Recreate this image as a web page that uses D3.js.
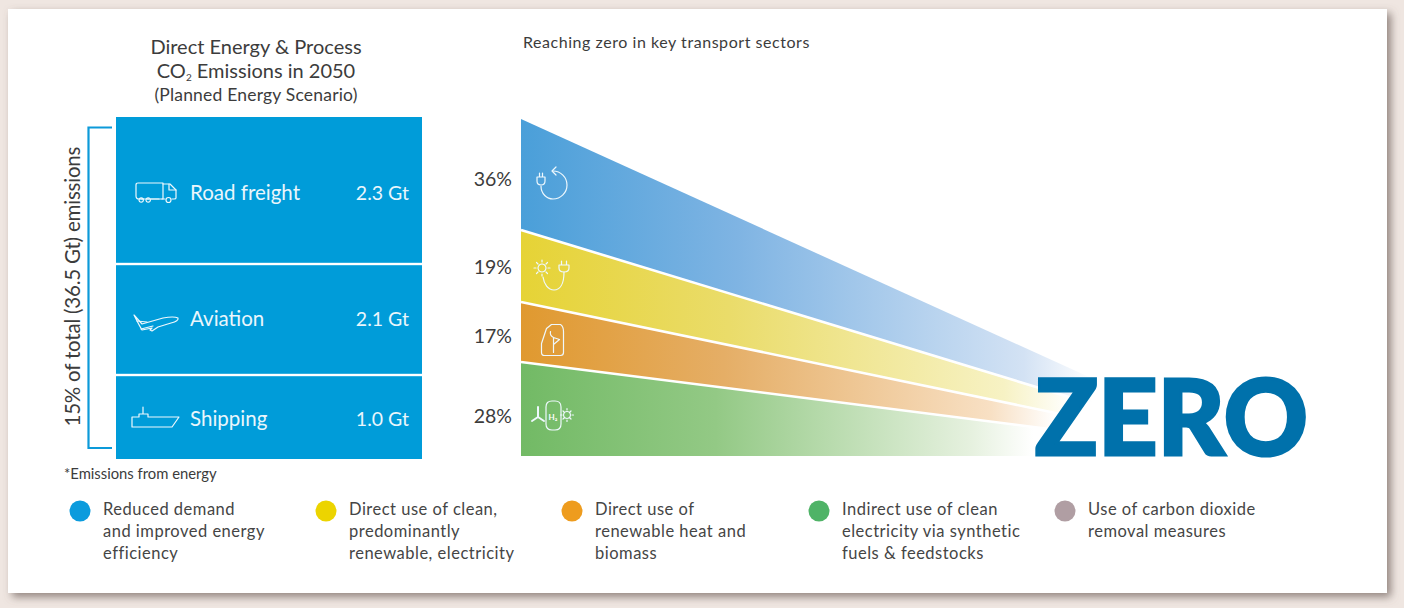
<!DOCTYPE html>
<html><head><meta charset="utf-8">
<script src="https://cdn.jsdelivr.net/npm/d3@7"></script>
<style>html,body{margin:0;padding:0;background:#efe6e1;overflow:hidden}svg{display:block}text{font-family:Lato,"Open Sans",sans-serif}</style>
</head><body><svg id="c" width="1404" height="608"></svg>
<script>
const sectors = ["Road freight","Aviation","Shipping"];
const sectorValues = [2.3,2.1,1.0];
const sectorValueLabels = ["2.3 Gt","2.1 Gt","1.0 Gt"];
const shareLabels = ["36%","19%","17%","28%"];
const shares = [36,19,17,28];
const shareColors = [["#4a9fd9","#7fb4e3","#d3e2f4"],["#e6d335","#eadc6a","#f7f2c4"],["#e0992f","#e5ae66","#f8e0c4"],["#72ba65","#93c985","#e6f1df"]];
const legendLabels = [
 ["Reduced demand","and improved energy","efficiency"],
 ["Direct use of clean,","predominantly","renewable, electricity"],
 ["Direct use of","renewable heat and","biomass"],
 ["Indirect use of clean","electricity via synthetic","fuels & feedstocks"],
 ["Use of carbon dioxide","removal measures"]];
const legendColors = ["#0b9bdd","#ecd400","#ee9c1e","#4fb367","#b09ea3"];

const svg = d3.select("#c");
const ink = "#3c3c3c";
const defs = svg.append("defs");
const f = defs.append("filter").attr("id","sh").attr("x","-5%").attr("y","-5%").attr("width","110%").attr("height","110%");
f.append("feDropShadow").attr("dx",4).attr("dy",4).attr("stdDeviation",4).attr("flood-color","#6b5c56").attr("flood-opacity",.7);
svg.append("rect").attr("x",8).attr("y",9).attr("width",1379).attr("height",584).attr("fill","#fff").attr("filter","url(#sh)");

const T=(x,y,s,size,anchor="start",fill=ink,ls=0)=>svg.append("text").attr("x",x).attr("y",y).attr("font-size",size).attr("text-anchor",anchor).attr("fill",fill).attr("letter-spacing",ls).text(s);

T(256,54,"Direct Energy & Process",20,"middle");
const co=T(256,78,"CO",20,"middle");
co.append("tspan").attr("font-size",10).attr("dy",3).text("2");
co.append("tspan").attr("dy",-3).text(" Emissions in 2050");
T(256,101,"(Planned Energy Scenario)",17.5,"middle",ink,.2);
T(523,48,"Reaching zero in key transport sectors",16,"start",ink,.55);

// stacked sector block (the source draws it with non-proportional heights)
const cum = d3.cumsum(sectorValues);
const yB = d3.scaleLinear().domain([0,2.3,4.4,5.4]).range([117,264,375,459]);
const xB = d3.scaleLinear().domain([0,1]).range([116,422]);
sectors.forEach((s,i)=>{
  const y0=yB(i?cum[i-1]:0), y1=yB(cum[i]);
  svg.append("rect").attr("x",xB(0)).attr("y",y0+(i?1.2:0)).attr("width",xB(1)-xB(0)).attr("height",y1-y0-(i?1.2:0)-(i<2?1.2:0)).attr("fill","#009cd9");
});
const labelY = [200,326,426];
sectors.forEach((s,i)=>{
  T(190,labelY[i],s,20.5,"start","#eaf6fc");
  T(409,labelY[i],sectorValueLabels[i],19.5,"end","#eaf6fc");
});
const icon=(x,y,sw,paths)=>{const g=svg.append("g").attr("transform",`translate(${x},${y})`).attr("fill","none").attr("stroke","#eef8fd").attr("stroke-width",sw).attr("stroke-linejoin","round").attr("stroke-linecap","round");paths.forEach(d=>g.append("path").attr("d",d));return g;};
icon(135,182,1.2,["M24,17H4Q1,17 1,14V3Q1,1 3,1H28V17H27","M28,2H35L41,8V16Q41,17 39,17H37","M34,2V8H41","M6,17H8M14,17H12","M4,18a2.2,2.2 0 1 0 4.4,0a2.2,2.2 0 1 0-4.4,0M11,18a2.2,2.2 0 1 0 4.4,0a2.2,2.2 0 1 0-4.4,0M31,18a2.5,2.5 0 1 0 5,0a2.5,2.5 0 1 0-5,0","M16,17H30"]);
icon(133,315,1.2,["M1,0L9,9L30,3Q41,1 45,3Q46,6 38,8L25,12L19,16L17,15L19,13L9,15Q6,10 1,0Z","M4,6L14,7M8,14L20,11"]);
icon(131,406,1.2,["M1,21V11H8V8H12V1V8H17V11H48L41,21Z"]);

// bracket
svg.append("path").attr("d","M112,127.5H88.5V448H112").attr("fill","none").attr("stroke","#0c9ad9").attr("stroke-width",2.2);
svg.append("text").attr("transform","translate(80,286.5) rotate(-90)").attr("font-size",20.5).attr("text-anchor","middle").attr("fill",ink).attr("textLength",280).text("15% of total (36.5 Gt) emissions");

T(64,479,"*Emissions from energy",14.8);

// wedges converge on one apex
const cumShare=[0,...d3.cumsum(shares)];
const yS=d3.scaleLinear().domain(cumShare).range([119,230,302,362,456]);
const t=d3.scaleLinear().domain([0,1]).range([521,1263]);
const apexY=456;
const fadeEnd=[.77,.74,.72,.69];
const line=d3.line();
shares.forEach((s,i)=>{
  const id="g"+i;
  const g=defs.append("linearGradient").attr("id",id).attr("gradientUnits","userSpaceOnUse").attr("x1",t(0)).attr("x2",t(fadeEnd[i])).attr("y1",0).attr("y2",0);
  const c=shareColors[i];
  [[0,c[0]],[.38,c[1]],[.88,c[2]],[1,"#ffffff"]].forEach(a=>g.append("stop").attr("offset",a[0]).attr("stop-color",a[1]));
  svg.append("path").attr("d",line([[t(0),yS(cumShare[i])],[t(1),apexY],[t(0),yS(cumShare[i+1])]])+"Z").attr("fill",`url(#${id})`);
});
cumShare.slice(1,4).forEach(c=>svg.append("path").attr("d",line([[t(0),yS(c)],[t(1),apexY]])).attr("stroke","#fff").attr("stroke-width",2.6).attr("fill","none"));
const pctY=[186,274,343,423];
shareLabels.forEach((s,i)=>T(512,pctY[i],s,19.5,"end"));

icon(535,170,1.2,["M21,-3L17,1L21,5","M6,16C6,24 12,29 18,29A14,14 0 0 0 18,1","M2,7H10V11Q10,15 6,15Q2,15 2,11ZM4.5,7V3M7.5,7V3"]);
icon(534,260,1.2,["M8,4a4,4 0 1 0 .01,0M8,0V2M8,14V16M0,8H2M14,8H16M2.5,2.5L4,4M13.5,2.5L12,4M2.5,13.5L4,12M13.5,13.5L12,12","M9,17C10,24 14,30 20,30C26,30 30,24 30,12","M25,5H35V8Q35,12 30,12Q25,12 25,8ZM27.5,5V1M32.5,5V1"]);
icon(541.5,323.5,1.2,["M10,1H19Q22,3 22,8V29Q22,32 19,32H3Q0,32 0,29V20L5,5Z","M12,29V14M12,14Q8,12 9,8M12,21L18,16L12,14"]);
const w=icon(532,400,1.2,["M14,7Q14,1 20,1H23Q29,1 29,7V24Q29,30 23,30H20Q14,30 14,24Z","M35,11.5a3.5,3.5 0 1 0 .01,0M35,8.5V10M35,20V21.5M28.5,15H30M40,15H41.5M31,11L32,12M39,11L38,12M31,19L32,18M39,19L38,18"]);
w.append("path").attr("d","M6,17V7M6,17L0,21M6,17L12,21").attr("stroke-width",2);
svg.append("text").attr("x",553).attr("y",420).attr("font-size",8).attr("font-weight",700).attr("text-anchor","middle").attr("fill","#fff").text("H\u2082");

svg.append("text").attr("x",1035).attr("y",454.5).attr("font-size",105).attr("font-weight",900).attr("fill","#0071ab").attr("stroke","#0071ab").attr("stroke-width",3).attr("textLength",273).attr("lengthAdjust","spacingAndGlyphs").text("ZERO");

// legend
const legendX=[80,326,572,819,1065];
legendLabels.forEach((ls,i)=>{
  svg.append("circle").attr("cx",legendX[i]).attr("cy",511).attr("r",10.5).attr("fill",legendColors[i]);
  ls.forEach((l,j)=>T(legendX[i]+23,515+22*j,l,16.5,"start","#454545",.5));
});
</script></body></html>
